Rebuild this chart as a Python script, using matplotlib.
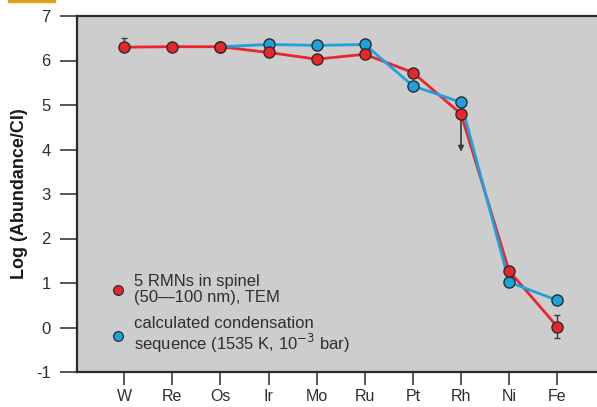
import numpy as np
import matplotlib
matplotlib.use("Agg")
import matplotlib.pyplot as plt
from matplotlib.lines import Line2D
from matplotlib.patches import Rectangle

plt.rcParams['font.family'] = ['Liberation Sans', 'DejaVu Sans']

elements = ["W", "Re", "Os", "Ir", "Mo", "Ru", "Pt", "Rh", "Ni", "Fe"]
measured = [6.30, 6.31, 6.31, 6.18, 6.03, 6.14, 5.73, 4.80, 1.27, 0.02]
calculated = [np.nan, np.nan, 6.31, 6.36, 6.34, 6.36, 5.43, 5.06, 1.02, 0.61]
yticks = [-1, 0, 1, 2, 3, 4, 5, 6, 7]

# error bars on measured values (upper, lower)
err_up = [0.20, 0, 0, 0, 0, 0, 0, 0, 0, 0.25]
err_lo = [0.0, 0, 0, 0, 0, 0, 0, 0, 0, 0.25]
rh_limit = 3.95  # upper-limit arrow for Rh

red = "#e8262b"
blue = "#1ea2dc"
edge = "#2b2b2b"
txt = "#2e2e2e"

fig = plt.figure(figsize=(5.97, 4.07), dpi=100)
ax = fig.add_axes([77/597, 1 - 372/407, 1 - 77/597 + 0.01, (372 - 16)/407])
ax.set_facecolor("#cdcdcd")

x = np.arange(len(elements))

ax.errorbar(x, measured, yerr=[err_lo, err_up], fmt="none", ecolor="#3a3a3a",
            elinewidth=1.0, capsize=2.5, capthick=1.0, zorder=2)
ax.annotate("", xy=(7, rh_limit), xytext=(7, measured[7]),
            arrowprops=dict(arrowstyle="-|>", color="#3a3a3a", lw=1.2,
                            mutation_scale=8, shrinkA=0, shrinkB=0), zorder=2)

ax.plot(x, measured, color=red, lw=2.0, zorder=3)
ax.plot(x, calculated, color=blue, lw=2.0, zorder=4)
ax.plot(x, calculated, "o", color=blue, mec=edge, mew=1.0, ms=8, zorder=5)
ax.plot(x, measured, "o", color=red, mec=edge, mew=1.0, ms=8, zorder=6)

ax.set_xlim(-0.98, 9.95)
ax.set_ylim(-1, 7)
ax.set_xticks(x)
ax.set_xticklabels(elements)
ax.set_yticks(yticks)
ax.set_yticklabels([str(v) for v in yticks])

ax.tick_params(axis="y", direction="out", length=12, width=1.2, color="#3a3a3a",
               labelsize=12, labelcolor=txt, pad=7)
ax.tick_params(axis="x", direction="out", length=9.5, width=1.2, color="#3a3a3a",
               labelsize=11.5, labelcolor=txt, pad=3)

for side in ["left", "top", "bottom"]:
    ax.spines[side].set_linewidth(1.6)
    ax.spines[side].set_color("#2a2a2a")
ax.spines["right"].set_visible(False)

ax.set_ylabel("Log (Abundance/CI)", fontsize=13, fontweight="bold", color="#1a1a1a",
              labelpad=6)

handles = [
    Line2D([], [], ls="none", marker="o", color=red, mec=edge, mew=0.9, ms=7),
    Line2D([], [], ls="none", marker="o", color=blue, mec=edge, mew=0.9, ms=7),
]
labels = ["5 RMNs in spinel\n(50\u2014100 nm), TEM",
          "calculated condensation\nsequence (1535 K, 10$^{-3}$ bar)"]
leg = ax.legend(handles, labels, loc="lower left", bbox_to_anchor=(0.022, 0.0),
                frameon=False, fontsize=12, labelspacing=0.65, handletextpad=0.2,
                handlelength=1.5, borderaxespad=0.6)
for t in leg.get_texts():
    t.set_color(txt)
    t.set_linespacing(1.08)

fig.patches.append(Rectangle((8/597, 1 - 2/407), 47/597, 2/407,
                             transform=fig.transFigure, color="#e0a21c"))

fig.savefig("out.png", dpi=100)
